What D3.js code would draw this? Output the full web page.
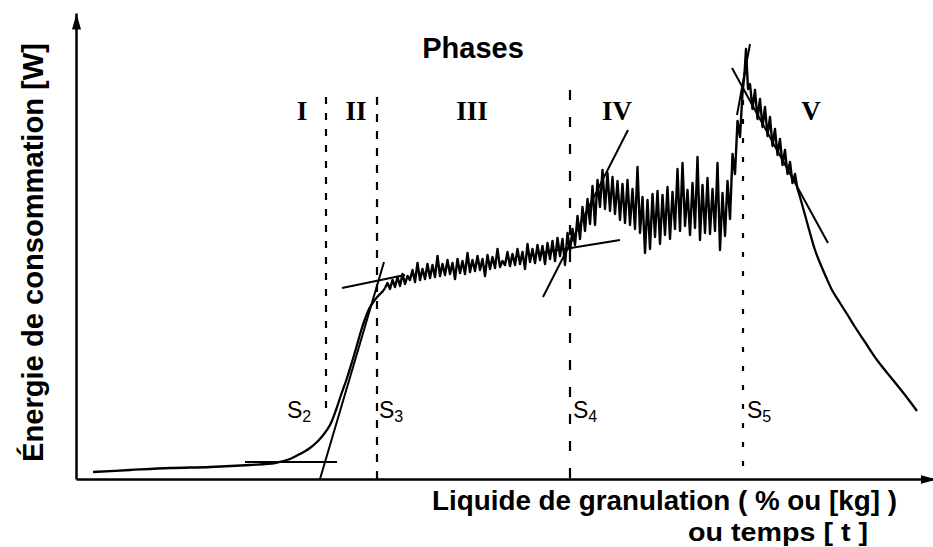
<!DOCTYPE html>
<html><head><meta charset="utf-8">
<script src="https://cdn.jsdelivr.net/npm/d3@7"></script>
<style>body{margin:0;background:#fff}svg{display:block}</style>
</head><body>
<svg id="chart" width="933" height="547"></svg>
<script>
// ---------- DATA (arbitrary units: liquid / time on x, power on y) ----------
// smooth start: dry mixing + phase I/II rise
const courbeDebut = [[1.7,0.7],[5.4,0.9],[9.4,1.1],[13.4,1.2],[17.4,1.4],[19.9,1.6],[21.4,2.0],[22.4,2.5],
  [23.4,3.1],[24.2,3.8],[24.8,4.5],[25.4,5.4],[26.0,6.9],[26.5,8.4],[27.1,10.1],[27.6,11.7],[28.1,13.4],
  [28.5,14.8],[28.9,16.0],[29.3,17.0],[29.8,17.8],[30.3,18.4],[30.7,18.8]];
// phase III noisy plateau (sampled every 0.25 from 30.9)
const phase3Debut = 30.9, pas = 0.25;
const phase3Energie = [19.1,19.6,19.0,19.9,19.2,20.2,19.3,20.5,19.5,20.3,19.9,20.9,19.7,21.6,19.9,21.0,20.0,21.5,
  20.1,21.4,20.2,22.3,20.3,21.5,20.4,21.9,20.5,21.6,20.0,22.0,20.6,21.8,20.5,22.6,20.7,21.9,20.8,22.3,20.9,22.0,
  20.3,22.4,21.0,22.2,21.1,23.0,21.2,21.8,21.4,22.7,21.3,22.5,21.4,23.0,21.5,22.7,21.0,23.5,21.7,23.0,21.6,23.4,
  21.9,23.3,21.5,23.6,22.0,23.8,21.8,24.1,22.3,24.0,21.4,24.6,22.8];
// phase IV noisy (sampled every 0.25 from 49.65)
const phase4Debut = 49.65;
const phase4Energie = [25.0,23.4,26.3,24.0,27.2,24.8,28.0,25.5,29.3,25.4,29.9,27.2,30.9,27.0,30.6,26.8,30.2,26.5,
  29.8,25.9,29.5,25.6,29.9,25.4,29.0,25.0,31.2,24.6,28.2,22.6,27.9,23.0,28.5,24.2,28.8,23.5,28.4,24.4,29.2,24.0,
  28.7,25.0,31.0,24.8,31.6,25.3,28.9,24.4,29.6,25.1,32.2,23.9,29.4,24.6,30.1,24.5,29.0,24.8,31.6,22.9,28.6,24.3,
  29.8,26.0,32.5,30.5,35.8,34.2,38.6];
// peak (S5)
const pic = [[66.85,40.5],[67.0,43.0],[67.2,39.0]];
// phase V noisy decline (sampled every 0.25 from 67.4)
const phase5Debut = 67.4;
const phase5Energie = [39.5,37.0,38.9,36.0,38.0,35.2,37.2,34.3,36.2,33.3,35.0,32.4,34.0,31.4,32.9,30.5,31.7,29.6,30.5,29.0];
// smooth end of phase V
const courbeFin = [[72.4,28.2],[72.9,26.4],[73.4,24.6],[73.9,22.9],[74.4,21.6],[75.0,20.2],[75.6,18.9],[76.4,17.6],
  [77.1,16.5],[77.9,15.2],[78.9,13.7],[80.1,11.9],[81.7,9.9],[82.9,8.4],[84.1,6.8]];
// tangent lines
const tangentes = [
  [[16.9,1.7],[26.1,1.7]],
  [[24.4,0.0],[30.8,21.7]],
  [[26.6,19.1],[32.9,20.4]],
  [[46.4,22.6],[54.4,23.9]],
  [[46.7,18.2],[55.2,34.9]],
  [[66.1,36.4],[67.4,43.5]],
  [[65.6,41.1],[75.2,23.6]]
];
// phase boundaries S2..S5
const seuils = ["S2","S3","S4","S5"];
const seuilX = [25.0, 30.1, 49.4, 66.7];
const seuilHaut = [38.2, 38.2, 38.9, 37.9];
const seuilBas = [6.7, 0, 0, 0];
const seuilEtiquetteX = [21.1, 30.3, 49.7, 67.1];
// phase names
const phases = ["I","II","III","IV","V"];
const phaseX = [22.6, 28.0, 39.6, 54.1, 73.5];

// ---------- CHART ----------
const svg = d3.select("#chart");
const x = d3.scaleLinear().domain([0, 86]).range([76, 936]);
const y = d3.scaleLinear().domain([0, 46.6]).range([479, 13]);

svg.append("defs").append("marker")
  .attr("id","fleche").attr("viewBox","0 -5 16 10").attr("refX",16).attr("refY",0)
  .attr("markerWidth",16).attr("markerHeight",10).attr("markerUnits","userSpaceOnUse").attr("orient","auto")
  .append("path").attr("d","M0,-4.5L16,0L0,4.5Z").attr("fill","#000");

const gY = svg.append("g").attr("transform",`translate(${x(0)},0)`)
  .call(d3.axisLeft(y).ticks(0).tickSizeOuter(0));
gY.select(".domain").attr("stroke","#000").attr("stroke-width",2.5).attr("marker-end","url(#fleche)");
const gX = svg.append("g").attr("transform",`translate(0,${y(0)})`)
  .call(d3.axisBottom(x).ticks(0).tickSizeOuter(0));
gX.select(".domain").attr("stroke","#000").attr("stroke-width",2.5).attr("marker-end","url(#fleche)");

const echant = (debut, vals) => vals.map((v,i)=>[debut + i*pas, v]);
const bruit = [...echant(phase3Debut, phase3Energie), ...echant(phase4Debut, phase4Energie), ...pic, ...echant(phase5Debut, phase5Energie)];

const ligne = d3.line().x(d=>x(d[0])).y(d=>y(d[1]));
const ligneLisse = d3.line().x(d=>x(d[0])).y(d=>y(d[1])).curve(d3.curveCatmullRom.alpha(0.5));

// dashed phase boundaries
const tirets = ["7,9","8,9","10,17","5,14"];
svg.append("g").selectAll("line").data(seuilX).join("line")
  .attr("x1",d=>x(d)).attr("x2",d=>x(d))
  .attr("y1",(d,i)=>y(seuilHaut[i])).attr("y2",(d,i)=>y(seuilBas[i]))
  .attr("stroke","#000").attr("stroke-width",2.2).attr("stroke-dasharray",(d,i)=>tirets[i]);

// tangents
svg.append("g").selectAll("path").data(tangentes).join("path")
  .attr("d",ligne).attr("fill","none").attr("stroke","#000").attr("stroke-width",2);

// curve
svg.append("path").attr("d",ligneLisse([...courbeDebut, bruit[0]]))
  .attr("fill","none").attr("stroke","#000").attr("stroke-width",2.3);
svg.append("path").attr("d",ligne(bruit))
  .attr("fill","none").attr("stroke","#000").attr("stroke-width",2.4).attr("stroke-linejoin","round");
svg.append("path").attr("d",ligneLisse([bruit[bruit.length-1], ...courbeFin]))
  .attr("fill","none").attr("stroke","#000").attr("stroke-width",2.3);

// phase labels
svg.append("g").selectAll("text").data(phases).join("text")
  .attr("x",(d,i)=>x(phaseX[i])).attr("y",y(35.9))
  .attr("text-anchor","middle").attr("font-family","'Liberation Serif', serif")
  .attr("font-weight","bold").attr("font-size",27).text(d=>d);

svg.append("text").attr("x",473).attr("y",58).attr("text-anchor","middle")
  .attr("font-family","'Liberation Sans', Arial, sans-serif").attr("font-weight","bold")
  .attr("font-size",29).text("Phases");

// S labels
const st = svg.append("g").selectAll("text").data(seuils).join("text")
  .attr("x",(d,i)=>x(seuilEtiquetteX[i])).attr("y",y(6.1))
  .attr("font-family","'Liberation Sans', Arial, sans-serif").attr("font-size",23);
st.append("tspan").text(d=>d[0]);
st.append("tspan").attr("font-size",16).attr("dy",4).text(d=>d.slice(1));

// axis titles
svg.append("text").attr("transform","translate(43,252.5) rotate(-90)").attr("text-anchor","middle")
  .attr("font-family","'Liberation Sans', Arial, sans-serif").attr("font-weight","bold").attr("font-size",29)
  .attr("textLength",419).attr("lengthAdjust","spacingAndGlyphs").text("Énergie de consommation [W]");
svg.append("text").attr("x",432).attr("y",510)
  .attr("font-family","'Liberation Sans', Arial, sans-serif").attr("font-weight","bold").attr("font-size",28)
  .attr("textLength",465).attr("lengthAdjust","spacingAndGlyphs").text("Liquide de granulation ( % ou [kg] )");
svg.append("text").attr("x",688).attr("y",541)
  .attr("font-family","'Liberation Sans', Arial, sans-serif").attr("font-weight","bold").attr("font-size",26)
  .attr("textLength",180).attr("lengthAdjust","spacingAndGlyphs").text("ou temps [ t ]");
</script>
</body></html>
